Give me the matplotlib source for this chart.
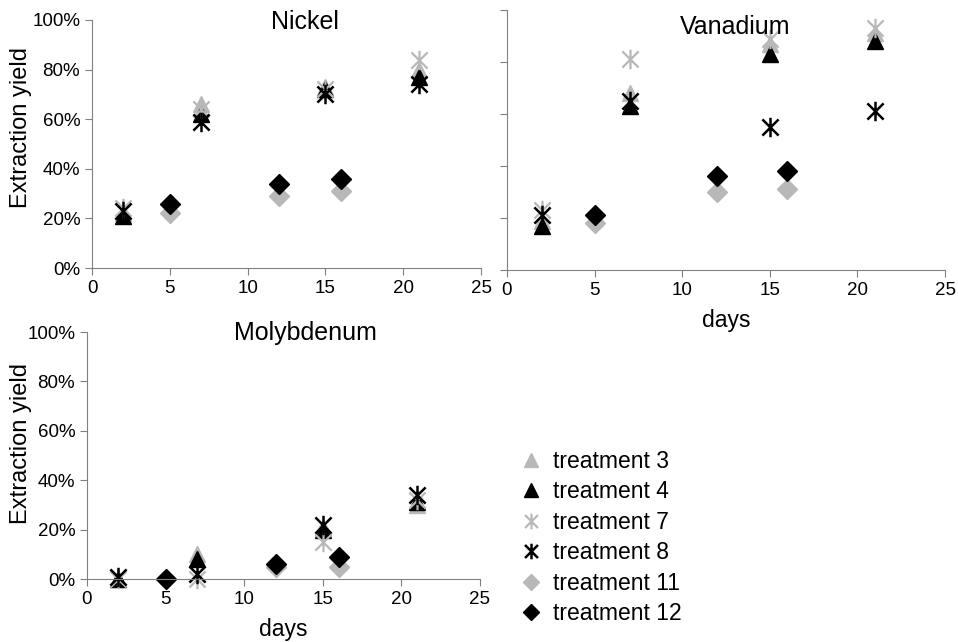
import matplotlib
matplotlib.use('Agg')
import matplotlib.pyplot as plt
from matplotlib.path import Path
from matplotlib.ticker import PercentFormatter

plt.rcParams['font.family'] = ['Liberation Sans', 'DejaVu Sans']

# days sampled for each group of treatments
days_a = [2, 7, 15, 21]      # treatments 3, 4, 7, 8
days_b = [5, 12, 16]         # treatments 11, 12

# extraction yield (%)
nickel = {
    'treatment 3': [22, 66, 73, 80],
    'treatment 4': [21, 62, 72, 77],
    'treatment 7': [24, 64, 72, 84],
    'treatment 8': [23, 59, 70, 74],
    'treatment 11': [22, 29, 31],
    'treatment 12': [26, 34, 36],
}
vanadium = {
    'treatment 3': [19, 68, 87, 91],
    'treatment 4': [17, 63, 83, 88],
    'treatment 7': [23, 81, 89, 93],
    'treatment 8': [21, 65, 55, 61],
    'treatment 11': [18, 30, 31],
    'treatment 12': [21, 36, 38],
}
molybdenum = {
    'treatment 3': [0, 10, 21, 30],
    'treatment 4': [0, 8, 20, 31],
    'treatment 7': [0, 0, 15, 32],
    'treatment 8': [1, 2, 22, 34],
    'treatment 11': [0, 5, 5],
    'treatment 12': [0, 6, 9],
}

# asterisk like the spreadsheet one: X plus vertical bar
star = Path([(-0.5, -0.5), (0.5, 0.5), (-0.5, 0.5), (0.5, -0.5), (0, -0.6), (0, 0.6)],
            [Path.MOVETO, Path.LINETO, Path.MOVETO, Path.LINETO, Path.MOVETO, Path.LINETO])

gray = '#b8b8b8'
styles = {
    'treatment 3': dict(marker='^', color=gray, ms=12),
    'treatment 4': dict(marker='^', color='black', ms=12),
    'treatment 7': dict(marker=star, color=gray, ms=14, mew=1.6),
    'treatment 8': dict(marker=star, color='black', ms=14, mew=1.8),
    'treatment 11': dict(marker='D', color=gray, ms=10),
    'treatment 12': dict(marker='D', color='black', ms=10),
}

W, H = 958, 642
fig = plt.figure(figsize=(W / 100, H / 100), dpi=100)


def px_axes(left, top, right, bottom):
    return fig.add_axes([left / W, 1 - bottom / H, (right - left) / W, (bottom - top) / H])


def draw(ax, data, title, title_pos, ylabels=True, xlabel=False):
    for name, vals in data.items():
        days = days_b if name in ('treatment 11', 'treatment 12') else days_a
        st = styles[name]
        ax.plot(days, [v / 100 for v in vals], linestyle='none', marker=st['marker'],
                color=st['color'], ms=st['ms'], mew=st.get('mew', 1), label=name,
                clip_on=False)
    ax.set_xlim(0, 25)
    ax.set_ylim(0, 1)
    ax.set_xticks(range(0, 26, 5))
    ax.set_yticks([0, 0.2, 0.4, 0.6, 0.8, 1.0])
    ax.yaxis.set_major_formatter(PercentFormatter(1.0, decimals=0))
    for s in ('top', 'right'):
        ax.spines[s].set_visible(False)
    for s in ('left', 'bottom'):
        ax.spines[s].set_color('#808080')
    ax.tick_params(colors='#808080', labelcolor='black', labelsize=13.5, length=5, direction='out')
    if not ylabels:
        ax.tick_params(axis='y', labelleft=False)
    if xlabel:
        ax.set_xlabel('days', fontsize=16.5, labelpad=7)
    ax.text(title_pos[0], title_pos[1], title, fontsize=18, ha='center', va='center',
            transform=ax.transAxes)


ax1 = px_axes(92, 20, 481, 268)
draw(ax1, nickel, 'Nickel', (0.548, 0.99))
ax2 = px_axes(507, 10, 945, 270)
draw(ax2, vanadium, 'Vanadium', (0.52, 0.935), ylabels=False, xlabel=True)
ax3 = px_axes(87, 332, 480, 579)
draw(ax3, molybdenum, 'Molybdenum', (0.555, 0.995), xlabel=True)

fig.text(21 / W, 1 - 128 / H, 'Extraction yield', rotation=90, fontsize=17,
         ha='center', va='center')
fig.text(21 / W, 1 - 444 / H, 'Extraction yield', rotation=90, fontsize=17,
         ha='center', va='center')

handles, labels = ax1.get_legend_handles_labels()
fig.legend(handles, labels, loc='upper left', bbox_to_anchor=(495 / W, 1 - 429 / H),
           frameon=False, fontsize=16.5, labelspacing=0.33, handletextpad=0.35,
           handlelength=1.3, markerscale=0.8)

fig.savefig('out.png', dpi=100)
